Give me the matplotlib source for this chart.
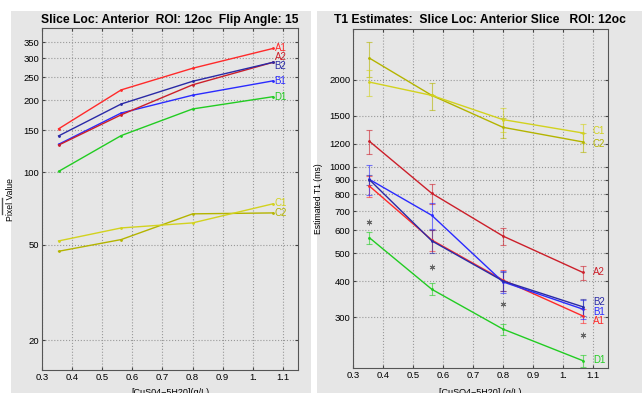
import numpy as np
import matplotlib
matplotlib.use("Agg")
import matplotlib.pyplot as plt
from matplotlib.colors import to_rgba
from matplotlib.patches import Rectangle
from matplotlib.ticker import FixedLocator, NullLocator

plt.rcParams['font.family'] = ['Liberation Sans', 'DejaVu Sans']

# --- data ---
conc = [0.355, 0.563, 0.8, 1.067]
series = ['A1', 'A2', 'B1', 'B2', 'C1', 'C2', 'D1']
colors = {'A1': '#ff2a2a', 'A2': '#cc1f2a', 'B1': '#2a2aff', 'B2': '#2a2aa6',
          'C1': '#d2d21e', 'C2': '#b4b400', 'D1': '#22cc22'}

# left panel: pixel values
pixel = {
    'A1': [152, 221, 272, 329],
    'A2': [130, 174, 232, 288],
    'B1': [131, 177, 210, 241],
    'B2': [142, 193, 240, 288],
    'C1': [51.8, 58.7, 61.6, 74],
    'C2': [46.9, 52.5, 67.2, 67.8],
    'D1': [101, 142.5, 184, 207],
}
pixel_label_y = {'A1': 329, 'A2': 302, 'B2': 277, 'B1': 241,
                 'C1': 74.5, 'C2': 67.7, 'D1': 207}

# right panel: T1 estimates with errors
t1 = {
    'A1': [855, 556, 404, 303],
    'A2': [1223, 807, 574, 429],
    'B1': [902, 677, 398, 320],
    'B2': [900, 552, 401, 326],
    'C1': [1963, 1765, 1455, 1307],
    'C2': [2377, 1765, 1368, 1217],
    'D1': [566, 375, 273, 212],
}
t1_err = {
    'A1': [72, 45, 35, 17],
    'A2': [118, 64, 39, 24],
    'B1': [108, 68, 35, 25],
    'B2': [35, 50, 30, 22],
    'C1': [200, 0, 140, 100],
    'C2': [326, 190, 110, 90],
    'D1': [28, 18, 12, 10],
}
ref_t1 = [644, 449, 333, 260]
t1_label_y = {'C1': 1331, 'C2': 1200, 'A2': 429, 'B2': 340,
              'B1': 314, 'A1': 291, 'D1': 214}

xticks = [0.3, 0.4, 0.5, 0.6, 0.7, 0.8, 0.9, 1.0, 1.1]
xticklabels = ['0.3', '0.4', '0.5', '0.6', '0.7', '0.8', '0.9', '1.', '1.1']
pix_ticks = [20, 50, 100, 150, 200, 250, 300, 350]
t1_ticks = [300, 400, 500, 600, 700, 800, 900, 1000, 1200, 1500, 2000]

bg = '#e6e6e6'
fig = plt.figure(figsize=(6.42, 3.93), dpi=100, facecolor='white')
fig.patches.append(Rectangle((0.0171, 0), 0.4673, 0.972, transform=fig.transFigure,
                             facecolor=bg, edgecolor='none', zorder=-10))
fig.patches.append(Rectangle((0.4938, 0), 0.5062, 0.972, transform=fig.transFigure,
                             facecolor=bg, edgecolor='none', zorder=-10))
fig.lines.append(plt.Line2D([0.003, 0.003], [0.455, 0.495], transform=fig.transFigure,
                            color='#555555', lw=1))


def style_axes(ax, yticks):
    ax.set_facecolor(bg)
    ax.set_yscale('log')
    ax.set_xlim(0.3, 1.15)
    ax.xaxis.set_major_locator(FixedLocator(xticks))
    ax.set_xticklabels(xticklabels)
    ax.yaxis.set_major_locator(FixedLocator(yticks))
    ax.yaxis.set_minor_locator(NullLocator())
    ax.set_yticklabels([str(v) for v in yticks])
    ax.grid(True, linestyle=':', color='#999999', lw=0.8)
    ax.tick_params(labelsize=6.8, direction='in', length=2.5, color='#444444',
                   top=True, right=True)
    ax.tick_params(axis='x', pad=2)
    ax.tick_params(axis='y', pad=2)
    for s in ax.spines.values():
        s.set_color('#555555')
        s.set_linewidth(0.8)


# left panel
ax1 = fig.add_axes([0.0654, 0.0585, 0.3988, 0.870])
style_axes(ax1, pix_ticks)
ax1.set_ylim(15, 400)
for name in ['C2', 'C1', 'D1', 'B1', 'A2', 'B2', 'A1']:
    ax1.plot(conc, pixel[name], color=colors[name], lw=1.0, marker='.', ms=2)
    ax1.text(conc[-1] + 0.005, pixel_label_y[name], name, color=colors[name],
             fontsize=7, va='center', ha='left')
ax1.set_title('Slice Loc: Anterior  ROI: 12oc  Flip Angle: 15',
              fontsize=8.7, fontweight='bold', pad=4)
ax1.set_ylabel('Pixel Value', fontsize=6.2)
ax1.yaxis.set_label_coords(-0.105, 0.5)
ax1.set_xlabel('[CuS04\u22125H20](g/L)', fontsize=6.5)
ax1.xaxis.set_label_coords(0.5, -0.053)

# right panel
ax2 = fig.add_axes([0.5498, 0.0636, 0.397, 0.8626])
style_axes(ax2, t1_ticks)
ax2.set_ylim(200, 3000)
for name in ['C2', 'C1', 'D1', 'A2', 'A1', 'B1', 'B2']:
    ax2.errorbar(conc, t1[name], yerr=t1_err[name], color=colors[name], lw=1.0,
                 ecolor=to_rgba(colors[name], 0.6), elinewidth=0.8, capsize=2,
                 capthick=0.8, marker='.', ms=2)
    ax2.text(1.1, t1_label_y[name], name, color=colors[name],
             fontsize=7, va='center', ha='left')
ax2.plot(conc, ref_t1, linestyle='none', marker=(6, 2, 0), ms=4,
         color='#666666', mew=0.7)
ax2.set_title('T1 Estimates:  Slice Loc: Anterior Slice   ROI: 12oc',
              fontsize=8.7, fontweight='bold', pad=4)
ax2.set_ylabel('Estimated T1 (ms)', fontsize=6.2)
ax2.yaxis.set_label_coords(-0.118, 0.5)
ax2.set_xlabel('[CuSO4\u22125H20] (g/L)', fontsize=6.5)
ax2.xaxis.set_label_coords(0.5, -0.059)

fig.savefig('out.png', dpi=100, facecolor='white')
